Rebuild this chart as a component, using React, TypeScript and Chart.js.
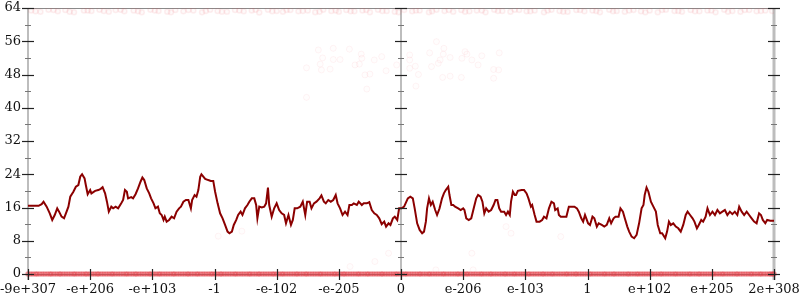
import React, { useEffect, useRef } from "react";
import { Chart, registerables } from "chart.js";

Chart.register(...registerables);

const xTickLabels = ["-9e+307", "-e+206", "-e+103", "-1", "-e-102", "-e-205", "0", "e-206", "e-103", "1", "e+102", "e+205", "2e+308"];
const yMajorTicks = [0, 8, 16, 24, 32, 40, 48, 56, 64];
const yMinorTicks = [4, 12, 20, 28, 36, 44, 52, 60];

const lineX = [
  0.0, 0.17, 0.22, 0.25, 0.30, 0.35, 0.39, 0.43, 0.47, 0.50, 0.54, 0.58, 0.61, 0.65, 0.68, 0.73, 0.77, 0.81, 0.84, 0.87,
  0.91, 0.93, 0.96, 1.00, 1.02, 1.08, 1.13, 1.17, 1.20, 1.24, 1.27, 1.30, 1.34, 1.37, 1.41, 1.45, 1.50, 1.53, 1.56, 1.59,
  1.61, 1.66, 1.69, 1.73, 1.77, 1.81, 1.84, 1.87, 1.91, 1.95, 1.98, 2.02, 2.05, 2.09, 2.12, 2.15, 2.18, 2.20, 2.23, 2.27,
  2.31, 2.35, 2.39, 2.43, 2.46, 2.50, 2.54, 2.58, 2.62, 2.64, 2.68, 2.71, 2.74, 2.77, 2.79, 2.85, 2.90, 2.94, 2.98, 3.01,
  3.05, 3.09, 3.13, 3.17, 3.21, 3.24, 3.28, 3.31, 3.35, 3.38, 3.42, 3.45, 3.49, 3.53, 3.56, 3.60, 3.64, 3.67, 3.69, 3.72,
  3.76, 3.80, 3.83, 3.86, 3.88, 3.92, 3.96, 4.00, 4.04, 4.08, 4.12, 4.15, 4.19, 4.23, 4.26, 4.29, 4.33, 4.38, 4.42, 4.46,
  4.49, 4.53, 4.56, 4.60, 4.64, 4.69, 4.72, 4.76, 4.79, 4.83, 4.87, 4.91, 4.95, 4.98, 5.02, 5.06, 5.10, 5.14, 5.17, 5.21,
  5.24, 5.29, 5.32, 5.37, 5.40, 5.45, 5.49, 5.53, 5.57, 5.61, 5.65, 5.69, 5.73, 5.76, 5.80, 5.83, 5.87, 5.90, 5.94, 5.97,
  6.01, 6.05, 6.11, 6.15, 6.19, 6.22, 6.26, 6.30, 6.34, 6.37, 6.40, 6.42, 6.45, 6.48, 6.51, 6.55, 6.58, 6.62, 6.66, 6.69,
  6.72, 6.76, 6.78, 6.81, 6.84, 6.87, 6.92, 6.96, 7.00, 7.02, 7.05, 7.09, 7.13, 7.17, 7.21, 7.24, 7.28, 7.31, 7.34, 7.37,
  7.41, 7.45, 7.49, 7.52, 7.55, 7.58, 7.61, 7.66, 7.69, 7.72, 7.75, 7.77, 7.80, 7.83, 7.85, 7.88, 7.94, 7.98, 8.02, 8.05,
  8.09, 8.11, 8.15, 8.18, 8.23, 8.27, 8.30, 8.34, 8.38, 8.42, 8.46, 8.48, 8.52, 8.54, 8.57, 8.61, 8.66, 8.70, 8.74, 8.79,
  8.83, 8.86, 8.90, 8.93, 8.96, 9.01, 9.04, 9.08, 9.11, 9.15, 9.18, 9.23, 9.27, 9.31, 9.35, 9.38, 9.42, 9.45, 9.50, 9.53,
  9.57, 9.60, 9.64, 9.67, 9.71, 9.75, 9.79, 9.83, 9.87, 9.90, 9.92, 9.95, 9.98, 10.02, 10.06, 10.10, 10.13, 10.17, 10.20, 10.25,
  10.28, 10.31, 10.34, 10.38, 10.42, 10.46, 10.50, 10.54, 10.58, 10.61, 10.65, 10.69, 10.72, 10.76, 10.79, 10.83, 10.86, 10.90, 10.93, 10.97,
  11.01, 11.05, 11.09, 11.13, 11.17, 11.21, 11.25, 11.29, 11.33, 11.37, 11.41, 11.44, 11.48, 11.52, 11.56, 11.60, 11.64, 11.68, 11.72, 11.76,
  11.79, 11.82, 11.86, 11.89, 11.94, 12.0,
];

const lineY = [
  16.4, 16.4, 16.8, 17.4, 16.2, 14.6, 13.0, 14.2, 15.8, 15.0, 13.8, 13.4, 14.6, 16.2, 18.6, 19.8, 21.0, 21.4, 23.4, 24.0,
  23.0, 21.4, 19.2, 20.2, 19.4, 20.0, 20.2, 20.5, 20.9, 19.4, 17.4, 15.0, 16.2, 15.8, 16.2, 15.8, 17.0, 17.8, 20.2, 19.8,
  18.2, 18.5, 18.2, 19.2, 20.6, 22.2, 23.2, 22.6, 20.6, 19.4, 18.2, 17.0, 15.8, 16.2, 14.6, 14.2, 13.0, 13.8, 12.6, 13.0,
  13.8, 13.4, 15.0, 15.8, 16.2, 17.4, 17.8, 17.8, 15.8, 17.8, 19.0, 18.6, 20.2, 23.4, 24.0, 22.9, 22.6, 22.4, 22.4, 19.8,
  17.0, 14.6, 13.4, 11.8, 10.2, 9.8, 10.2, 11.8, 13.0, 14.2, 15.0, 14.2, 15.8, 16.6, 17.4, 18.2, 18.2, 16.6, 13.4, 16.2,
  16.0, 16.2, 17.0, 20.8, 16.6, 13.8, 15.8, 17.0, 15.4, 14.6, 14.2, 12.2, 14.2, 11.8, 13.0, 15.8, 15.8, 16.2, 17.4, 14.2,
  17.4, 17.4, 15.8, 17.0, 17.4, 18.2, 18.9, 17.4, 17.0, 17.8, 17.4, 17.8, 19.0, 17.0, 15.8, 14.2, 15.0, 14.2, 16.6, 16.6,
  17.0, 16.6, 17.4, 16.6, 17.0, 17.0, 17.3, 15.4, 14.6, 14.2, 13.4, 12.0, 12.6, 11.4, 12.2, 11.8, 13.4, 13.8, 13.0, 15.8,
  15.8, 16.2, 18.2, 18.6, 18.2, 15.8, 12.2, 10.6, 9.8, 10.2, 12.6, 15.8, 18.2, 16.6, 17.4, 15.4, 14.2, 15.8, 18.2, 19.4,
  20.2, 21.0, 19.0, 16.6, 16.6, 16.2, 15.8, 15.4, 15.8, 15.4, 13.4, 13.0, 13.4, 15.8, 18.2, 19.0, 18.6, 17.4, 14.6, 15.8,
  15.0, 15.4, 16.6, 17.8, 17.8, 15.8, 15.0, 15.0, 14.2, 15.0, 14.2, 17.4, 19.8, 19.0, 19.0, 20.0, 20.2, 20.2, 19.4, 18.2,
  16.2, 16.6, 14.2, 12.6, 12.6, 13.0, 13.8, 13.4, 15.8, 17.4, 17.0, 15.4, 15.8, 14.2, 13.8, 13.8, 13.8, 16.2, 16.2, 16.2,
  15.8, 15.0, 13.4, 12.6, 14.2, 12.2, 11.8, 13.8, 13.4, 11.4, 12.2, 11.8, 11.4, 11.8, 13.4, 12.2, 13.4, 13.8, 13.8, 15.8,
  15.0, 13.4, 11.4, 10.2, 9.0, 8.6, 9.4, 12.2, 15.8, 16.6, 19.0, 20.8, 19.8, 17.4, 16.2, 15.0, 11.8, 9.8, 9.8, 8.6,
  10.2, 12.6, 11.8, 12.2, 11.4, 11.0, 10.2, 11.8, 14.2, 15.0, 14.2, 13.4, 12.6, 11.0, 11.8, 13.0, 12.6, 13.8, 15.8, 14.2,
  15.0, 14.2, 15.4, 14.6, 15.0, 15.4, 14.2, 15.0, 14.4, 15.0, 14.2, 16.2, 15.0, 14.2, 15.0, 14.2, 13.4, 12.6, 12.2, 14.6,
  14.2, 13.0, 12.2, 13.0, 12.8, 12.8,
];

const topBandX = [
  0.05, 0.2, 0.33, 0.48, 0.6, 0.74, 0.9, 1.02, 1.15, 1.3, 1.41, 1.55, 1.7, 1.83, 1.97, 2.1, 2.24, 2.37, 2.5, 2.66,
  2.8, 2.93, 3.05, 3.2, 3.33, 3.47, 3.6, 3.72, 3.86, 4.0, 4.1, 4.22, 4.35, 4.5, 4.62, 4.75, 4.88, 5.0, 5.12, 5.25,
  5.38, 5.5, 5.63, 5.77, 5.9, 6.05, 6.18, 6.3, 6.45, 6.57, 6.7, 6.84, 6.97, 7.1, 7.22, 7.36, 7.5, 7.63, 7.76, 7.9,
  8.02, 8.15, 8.3, 8.42, 8.55, 8.68, 8.82, 8.95, 9.08, 9.2, 9.35, 9.47, 9.6, 9.74, 9.86, 10.0, 10.13, 10.26, 10.4, 10.52,
  10.66, 10.8, 10.93, 11.06, 11.2, 11.33, 11.46, 11.6, 11.72, 11.86, 11.97,
  0.12, 0.41, 0.67, 0.96, 1.22, 1.49, 1.77, 2.04, 2.3, 2.58, 2.86, 3.12, 3.4, 3.66, 3.93, 4.16, 4.42, 4.69, 4.95, 5.19,
  5.44, 5.7, 5.96, 6.24, 6.5, 6.77, 7.03, 7.3, 7.56, 7.83, 8.08, 8.36, 8.61, 8.88, 9.14, 9.41, 9.67, 9.93, 10.2, 10.46,
  10.73, 10.99, 11.26, 11.53, 11.79,
];
const topBandY = [
  63.4, 63.1, 63.6, 63.2, 63.5, 63.0, 63.4, 63.3, 63.6, 63.1, 63.5, 63.2, 63.4, 63.0, 63.6, 63.3, 63.1, 63.5, 63.2, 63.4,
  63.0, 63.6, 63.3, 63.1, 63.5, 63.2, 63.4, 62.9, 63.6, 63.3, 63.1, 63.5, 63.2, 63.4, 63.0, 63.6, 63.3, 63.1, 63.5, 63.2,
  63.4, 63.0, 63.6, 63.3, 63.1, 63.5, 63.2, 63.4, 63.0, 63.6, 63.3, 63.1, 63.5, 63.2, 63.4, 63.0, 63.6, 63.3, 63.1, 63.5,
  63.2, 63.4, 63.0, 63.6, 63.3, 63.1, 63.5, 63.2, 63.4, 63.0, 63.6, 63.3, 63.1, 63.5, 63.2, 63.4, 63.0, 63.6, 63.3, 63.1,
  63.5, 63.2, 63.4, 63.0, 63.6, 63.3, 63.1, 63.5, 63.2, 63.4, 63.3,
  63.2, 63.5, 63.1, 63.4, 63.3, 63.6, 63.2, 63.4, 63.0, 63.5, 63.3, 63.1, 63.4, 63.6, 63.2, 63.5, 63.3, 63.1, 63.4, 63.2,
  63.5, 63.3, 63.0, 63.4, 63.2, 63.5, 63.1, 63.4, 63.3, 63.6, 63.2, 63.4, 63.1, 63.5, 63.3, 63.2, 63.4, 63.0, 63.5, 63.3,
  63.2, 63.4, 63.1, 63.5, 63.3,
];

const bottomBandX = [
  0.0, 0.08, 0.15, 0.23, 0.31, 0.38, 0.46, 0.53, 0.61, 0.69, 0.76, 0.84, 0.92, 0.99, 1.07, 1.14, 1.22, 1.3, 1.37, 1.45,
  1.53, 1.6, 1.68, 1.75, 1.83, 1.91, 1.98, 2.06, 2.13, 2.21, 2.29, 2.36, 2.44, 2.52, 2.59, 2.67, 2.74, 2.82, 2.9, 2.97,
  3.05, 3.12, 3.2, 3.28, 3.35, 3.43, 3.51, 3.58, 3.66, 3.73, 3.81, 3.89, 3.96, 4.04, 4.11, 4.19, 4.27, 4.34, 4.42, 4.49,
  4.57, 4.65, 4.72, 4.8, 4.88, 4.95, 5.03, 5.1, 5.18, 5.26, 5.33, 5.41, 5.48, 5.56, 5.64, 5.71, 5.79, 5.87, 5.94, 6.02,
  6.09, 6.17, 6.25, 6.32, 6.4, 6.47, 6.55, 6.63, 6.7, 6.78, 6.86, 6.93, 7.01, 7.08, 7.16, 7.24, 7.31, 7.39, 7.46, 7.54,
  7.62, 7.69, 7.77, 7.84, 7.92, 8.0, 8.07, 8.15, 8.23, 8.3, 8.38, 8.45, 8.53, 8.61, 8.68, 8.76, 8.83, 8.91, 8.99, 9.06,
  9.14, 9.22, 9.29, 9.37, 9.44, 9.52, 9.6, 9.67, 9.75, 9.82, 9.9, 9.98, 10.05, 10.13, 10.2, 10.28, 10.36, 10.43, 10.51, 10.59,
  10.66, 10.74, 10.81, 10.89, 10.97, 11.04, 11.12, 11.19, 11.27, 11.35, 11.42, 11.5, 11.58, 11.65, 11.73, 11.8, 11.88, 11.95, 12.0,
  0.04, 0.12, 0.19, 0.27, 0.35, 0.42, 0.5, 0.57, 0.65, 0.73, 0.8, 0.88, 0.95, 1.03, 1.11, 1.18, 1.26, 1.34, 1.41, 1.49,
  1.57, 1.64, 1.72, 1.79, 1.87, 1.95, 2.02, 2.1, 2.17, 2.25, 2.33, 2.4, 2.48, 2.56, 2.63, 2.71, 2.78, 2.86, 2.94, 3.01,
  3.09, 3.16, 3.24, 3.32, 3.39, 3.47, 3.55, 3.62, 3.7, 3.77, 3.85, 3.93, 4.0, 4.08, 4.15, 4.23, 4.31, 4.38, 4.46, 4.53,
  4.61, 4.69, 4.76, 4.84, 4.92, 4.99, 5.07, 5.14, 5.22, 5.3, 5.37, 5.45, 5.52, 5.6, 5.68, 5.75, 5.83, 5.91, 5.98, 6.06,
  6.13, 6.21, 6.29, 6.36, 6.44, 6.51, 6.59, 6.67, 6.74, 6.82, 6.9, 6.97, 7.05, 7.12, 7.2, 7.28, 7.35, 7.43, 7.5, 7.58,
  7.66, 7.73, 7.81, 7.88, 7.96, 8.04, 8.11, 8.19, 8.27, 8.34, 8.42, 8.49, 8.57, 8.65, 8.72, 8.8, 8.87, 8.95, 9.03, 9.1,
  9.18, 9.26, 9.33, 9.41, 9.48, 9.56, 9.64, 9.71, 9.79, 9.86, 9.94, 10.02, 10.09, 10.17, 10.24, 10.32, 10.4, 10.47, 10.55, 10.63,
  10.7, 10.78, 10.85, 10.93, 11.01, 11.08, 11.16, 11.23, 11.31, 11.39, 11.46, 11.54, 11.62, 11.69, 11.77, 11.84, 11.92, 11.98,
];

const midScatterX = [
  4.67, 4.91, 5.17, 5.36, 4.74, 4.91, 5.02, 5.37, 5.57, 5.69, 4.70, 4.48, 4.72, 4.86, 5.26, 5.33, 5.93, 6.14, 6.14, 6.23,
  6.14, 5.76, 5.42, 5.50, 6.28, 5.45, 6.24, 4.48, 6.57, 6.46, 6.69, 6.68, 6.79, 6.63, 6.60, 6.49, 7.03, 7.06, 6.98, 7.14,
  7.30, 7.24, 7.49, 7.57, 7.58, 6.67, 6.79, 6.97, 7.49,
  5.80, 5.58, 5.18, 7.14, 7.16, 6.56, 3.06, 3.44, 7.69, 7.77, 8.57,
];
const midScatterY = [
  53.9, 54.3, 54.1, 52.9, 52.0, 51.6, 51.6, 51.9, 51.5, 52.3, 50.5, 49.6, 49.1, 49.3, 50.3, 50.5, 50.3, 52.7, 51.5, 50.0,
  49.5, 48.9, 47.9, 48.1, 48.0, 44.5, 45.2, 42.5, 55.9, 53.2, 54.3, 52.9, 52.1, 51.5, 50.7, 49.9, 53.5, 52.9, 51.9, 51.5,
  52.5, 50.3, 49.2, 49.1, 53.2, 47.3, 47.6, 47.3, 47.1,
  5.0, 3.0, 1.8, 5.0, 1.0, 1.0, 9.1, 10.3, 11.4, 9.8, 9.0,
];

const FONT = "'DejaVu Serif', serif";

const axesPlugin = {
  id: "customAxes",
  beforeDatasetsDraw(chart: any) {
    const { ctx, chartArea, scales } = chart;
    const { left, right, top, bottom } = chartArea;
    const x = scales.x;
    ctx.save();
    ctx.strokeStyle = "#8a8a8a";
    ctx.lineWidth = 1;
    ctx.beginPath();
    ctx.moveTo(left, top + 0.5);
    ctx.lineTo(right, top + 0.5);
    ctx.moveTo(left, bottom + 0.5);
    ctx.lineTo(right, bottom + 0.5);
    ctx.stroke();
    ctx.strokeStyle = "#bdbdbd";
    const axisVals = [0, 6, 12];
    axisVals.forEach((v, i) => {
      const px = Math.round(x.getPixelForValue(v));
      ctx.lineWidth = i === 2 ? 3 : 2;
      ctx.beginPath();
      ctx.moveTo(px, top);
      ctx.lineTo(px, bottom + 6);
      ctx.stroke();
    });
    ctx.restore();
  },
  afterDatasetsDraw(chart: any) {
    const { ctx, chartArea, scales } = chart;
    const { bottom } = chartArea;
    const x = scales.x;
    const y = scales.y;
    ctx.save();
    const axisVals = [0, 6, 12];
    axisVals.forEach((v) => {
      const px = Math.round(x.getPixelForValue(v));
      ctx.strokeStyle = "#222";
      ctx.lineWidth = 1.2;
      yMajorTicks.forEach((t) => {
        const py = Math.round(y.getPixelForValue(t)) + 0.5;
        ctx.beginPath();
        ctx.moveTo(px - 6, py);
        ctx.lineTo(px + 6, py);
        ctx.stroke();
      });
      ctx.strokeStyle = "#777";
      ctx.lineWidth = 1;
      yMinorTicks.forEach((t) => {
        const py = Math.round(y.getPixelForValue(t)) + 0.5;
        ctx.beginPath();
        ctx.moveTo(px - 3, py);
        ctx.lineTo(px + 3, py);
        ctx.stroke();
      });
    });
    ctx.strokeStyle = "#222";
    ctx.lineWidth = 1.2;
    xTickLabels.forEach((_, i) => {
      const px = Math.round(x.getPixelForValue(i)) + 0.5;
      ctx.beginPath();
      ctx.moveTo(px, bottom - 5);
      ctx.lineTo(px, bottom + 6);
      ctx.stroke();
    });
    ctx.restore();
  },
};

export default function App() {
  const ref = useRef<HTMLCanvasElement | null>(null);
  useEffect(() => {
    document.body.style.margin = "0";
    const canvas = ref.current;
    if (!canvas) return;
    const chart = new Chart(canvas, {
      type: "scatter",
      data: {
        datasets: [
          {
            label: "line",
            data: lineX.map((v, i) => ({ x: v, y: lineY[i] })),
            showLine: true,
            borderColor: "#8b0000",
            borderWidth: 2,
            pointRadius: 0,
            order: 0,
          },
          {
            label: "top",
            data: topBandX.map((v, i) => ({ x: v, y: topBandY[i] })),
            pointRadius: 2.5,
            borderWidth: 1.5,
            borderColor: "rgba(235,80,90,0.09)",
            backgroundColor: "rgba(240,120,130,0.04)",
            clip: 0,
            order: 2,
          },
          {
            label: "bottom",
            data: bottomBandX.map((v) => ({ x: v, y: 0 })),
            pointRadius: 2,
            borderWidth: 1.5,
            borderColor: "rgba(225,50,60,0.45)",
            backgroundColor: "rgba(230,70,80,0.3)",
            clip: false,
            order: 2,
          },
          {
            label: "mid",
            data: midScatterX.map((v, i) => ({ x: v, y: midScatterY[i] })),
            pointRadius: 3,
            borderWidth: 1,
            borderColor: "rgba(240,120,130,0.08)",
            backgroundColor: "rgba(240,150,160,0.02)",
            order: 3,
          },
        ],
      },
      options: {
        animation: false,
        responsive: false,
        layout: { padding: { left: 0, right: 26, top: 8, bottom: 0 } },
        plugins: { legend: { display: false }, tooltip: { enabled: false } },
        scales: {
          x: {
            type: "linear",
            min: 0,
            max: 12,
            afterFit: (s: any) => {
              s.height = 26;
              s.paddingLeft = 0;
              s.paddingRight = 0;
            },
            afterBuildTicks: (s: any) => {
              s.ticks = xTickLabels.map((_, i) => ({ value: i }));
            },
            ticks: {
              autoSkip: false,
              maxRotation: 0,
              padding: 8,
              color: "#111",
              font: { family: FONT, size: 13 },
              callback: (v: any) => xTickLabels[Math.round(Number(v))] ?? "",
            },
            grid: { display: false, drawTicks: false },
            border: { display: false },
          },
          y: {
            type: "linear",
            min: 0,
            max: 64,
            afterFit: (s: any) => {
              s.width = 28;
              s.paddingTop = 0;
              s.paddingBottom = 0;
            },
            afterBuildTicks: (s: any) => {
              s.ticks = yMajorTicks.map((v) => ({ value: v }));
            },
            ticks: {
              padding: 7,
              color: "#111",
              font: { family: FONT, size: 13 },
            },
            grid: { display: false, drawTicks: false },
            border: { display: false },
          },
        },
      },
      plugins: [axesPlugin],
    });
    return () => chart.destroy();
  }, []);
  return (
    <div style={{ position: "absolute", left: 0, top: 0, width: 800, height: 300, background: "#fff" }}>
      <canvas ref={ref} width={800} height={300} />
    </div>
  );
}
